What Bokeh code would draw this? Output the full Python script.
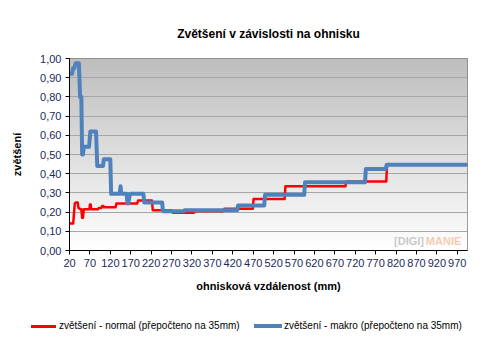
import numpy as np
from bokeh.plotting import figure
from bokeh.layouts import column
from bokeh.models import (Range1d, FixedTicker, CustomJSTickFormatter, Label,
                          Div)
from bokeh.embed import file_html
from bokeh.resources import INLINE

# ---------------- data ----------------
title_text = "Zvětšení v závislosti na ohnisku"
x_label = "ohnisková vzdálenost (mm)"
y_label = "zvětšení"
x_ticks = [20, 70, 120, 170, 220, 270, 320, 370, 420, 470, 520, 570, 620,
           670, 720, 770, 820, 870, 920, 970]
y_ticks = [0.0, 0.1, 0.2, 0.3, 0.4, 0.5, 0.6, 0.7, 0.8, 0.9, 1.0]

normal_name = "zvětšení - normal (přepočteno na 35mm)"
normal_mm = [20, 29, 33, 35, 40, 42, 47, 49, 51, 53, 55, 69, 70, 72, 73, 90,
             92, 98, 100, 103, 104, 133, 135, 186, 188, 222, 224, 271, 273,
             325, 327, 397, 399, 469, 471, 547, 549, 696, 698, 796, 798, 995]
normal_val = [0.14, 0.14, 0.245, 0.25, 0.25, 0.222, 0.215, 0.215, 0.17, 0.17,
              0.215, 0.215, 0.24, 0.24, 0.215, 0.215, 0.222, 0.222, 0.232,
              0.232, 0.225, 0.225, 0.245, 0.245, 0.26, 0.26, 0.21, 0.21,
              0.197, 0.197, 0.205, 0.205, 0.217, 0.217, 0.268, 0.268, 0.335,
              0.335, 0.36, 0.36, 0.447, 0.447]

makro_name = "zvětšení - makro (přepočteno na 35mm)"
makro_mm = [20, 26, 29, 32, 35, 43, 46, 49, 51, 53, 55, 68, 71, 85, 88, 102,
            104, 120, 122, 143, 145, 147, 160, 162, 164, 168, 201, 203, 247,
            249, 300, 302, 431, 433, 497, 499, 595, 597, 744, 746, 795, 797,
            995]
makro_val = [0.92, 0.92, 0.95, 0.95, 0.975, 0.975, 0.80, 0.80, 0.50, 0.50,
             0.54, 0.54, 0.62, 0.62, 0.44, 0.44, 0.475, 0.475, 0.295, 0.295,
             0.335, 0.295, 0.295, 0.245, 0.245, 0.295, 0.295, 0.25, 0.25,
             0.205, 0.205, 0.21, 0.21, 0.235, 0.235, 0.29, 0.29, 0.355, 0.355,
             0.425, 0.425, 0.447, 0.447]

# ---------------- style ----------------
FONT = "Liberation Sans"
TICK_COLOR = "#1C2A5A"
RED = "#FF0000"
BLUE = "#4F81BD"

# ---------------- main figure ----------------
p = figure(width=488, height=300, x_range=Range1d(20, 995),
           y_range=Range1d(0, 1), output_backend="svg", toolbar_location=None,
           min_border_left=69, min_border_right=21, min_border_top=58,
           min_border_bottom=50)

p.title.text = title_text
p.title.align = "center"
p.title.text_font = FONT
p.title.text_font_size = "12px"
p.title.text_font_style = "bold"
p.title.text_color = "#000000"
p.title.standoff = 35

# background gradient (style only)
n = 200
shade = np.linspace(255, 190, n).astype(np.uint8)
img = np.zeros((n, 1), dtype=np.uint32)
view = img.view(dtype=np.uint8).reshape((n, 1, 4))
view[:, 0, 0] = shade
view[:, 0, 1] = shade
view[:, 0, 2] = shade
view[:, 0, 3] = 255
bg = p.image_rgba(image=[img], x=20, y=0, dw=975, dh=1)
bg.level = "image"

p.background_fill_color = "white"
p.border_fill_color = "white"
p.outline_line_color = "#808080"
p.xgrid.grid_line_color = None
p.ygrid.grid_line_color = "#A6A6A6"
p.ygrid.ticker = FixedTicker(ticks=y_ticks)

p.line(normal_mm, normal_val, line_color=RED, line_width=2.5,
       line_join="round")
p.line(makro_mm, makro_val, line_color=BLUE, line_width=4,
       line_join="round")

for ax in (p.xaxis[0], p.yaxis[0]):
    ax.axis_line_color = "#000000"
    ax.major_tick_line_color = "#000000"
    ax.major_tick_out = 4
    ax.major_tick_in = 0
    ax.minor_tick_line_color = None
    ax.major_label_text_font = FONT
    ax.major_label_text_font_size = "11px"
    ax.major_label_text_color = TICK_COLOR
    ax.axis_label_text_font = FONT
    ax.axis_label_text_font_size = "11px"
    ax.axis_label_text_font_style = "bold"
    ax.axis_label_text_color = "#000000"

p.xaxis.ticker = FixedTicker(ticks=x_ticks)
p.yaxis.ticker = FixedTicker(ticks=y_ticks)
p.yaxis.formatter = CustomJSTickFormatter(
    code="return tick.toFixed(2).replace('.', ',');")
p.xaxis.axis_label = x_label
p.yaxis.axis_label = y_label
p.xaxis.major_label_standoff = 4
p.xaxis.axis_label_standoff = 10
p.yaxis.major_label_standoff = 4
p.yaxis.axis_label_standoff = 14

# watermark
wm1 = Label(x=815, y=0.052, text="[DIGI]", text_font=FONT,
            text_font_size="11px", text_font_style="bold",
            text_color="#B0B0B0", text_alpha=0.7, text_baseline="middle")
wm2 = Label(x=893, y=0.052, text="MANIE", text_font=FONT,
            text_font_size="11px", text_font_style="bold",
            text_color="#F4B590", text_alpha=0.7, text_baseline="middle")
p.add_layout(wm1)
p.add_layout(wm2)

# ---------------- legend strip (HTML) ----------------
txt = ("position:absolute;top:20px;line-height:12px;white-space:nowrap;"
       "font-family:'Liberation Sans';font-size:10px;color:#000;")
legend_html = (
    '<div style="position:relative;width:488px;height:49px;background:#fff;">'
    f'<span style="position:absolute;left:31px;top:25px;width:25px;'
    f'height:3px;background:{RED};"></span>'
    f'<span style="{txt}left:59px;">{normal_name}</span>'
    f'<span style="position:absolute;left:254px;top:24px;width:28px;'
    f'height:4px;background:{BLUE};"></span>'
    f'<span style="{txt}left:284px;">{makro_name}</span>'
    '</div>'
)
lg = Div(text=legend_html, width=488, height=49, margin=(0, 0, 0, 0))

layout = column(p, lg, spacing=0)
open("out.html", "w").write(file_html(layout, INLINE))
